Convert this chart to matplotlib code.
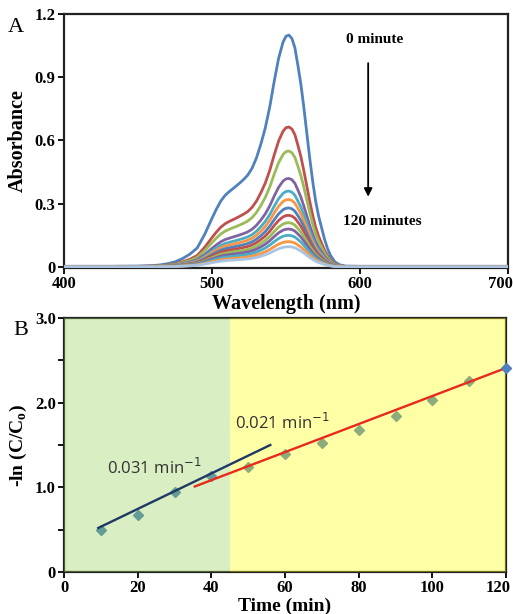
import numpy as np
import matplotlib
matplotlib.use("Agg")
import matplotlib.pyplot as plt
from matplotlib.ticker import FixedLocator
from matplotlib.transforms import ScaledTranslation

# ---- panel A: absorbance spectra, 0 to 120 minutes ----
wavelength = [400, 430, 450, 460, 465, 470, 475, 480, 485, 490, 495, 500, 503, 506,
              509, 512, 515, 518, 521, 524, 527, 530, 533, 536, 539, 542, 545, 548,
              550, 552, 554, 556, 558, 560, 562, 564, 566, 568, 570, 572, 574, 576,
              578, 580, 583, 586, 590, 600, 650, 700]
# shape of the 0 minute spectrum, normalised to its peak
band_shape = [0.003, 0.003, 0.004, 0.006, 0.009, 0.014, 0.022, 0.036, 0.055, 0.082,
              0.14, 0.21, 0.25, 0.285, 0.31, 0.327, 0.342, 0.358, 0.375, 0.395, 0.425,
              0.47, 0.53, 0.60, 0.69, 0.80, 0.90, 0.97, 0.995, 1.0, 0.985, 0.945, 0.87,
              0.79, 0.69, 0.58, 0.47, 0.37, 0.285, 0.22, 0.17, 0.12, 0.08, 0.05, 0.022,
              0.01, 0.004, 0.003, 0.003, 0.003]
peak_abs = [1.10, 0.664, 0.55, 0.42, 0.36, 0.32, 0.28, 0.245, 0.21, 0.18, 0.15, 0.12, 0.096]
spec_colors = ['#4F81BD', '#C0504D', '#9BBB59', '#8064A2', '#4BACC6', '#F79646',
               '#4F81BD', '#C0504D', '#9BBB59', '#8064A2', '#4BACC6', '#F79646', '#A9C4E2']

# ---- panel B: kinetics ----
time_min = [10, 20, 30, 40, 50, 60, 70, 80, 90, 100, 110, 120]
neg_ln = [0.50, 0.67, 0.95, 1.13, 1.24, 1.39, 1.52, 1.68, 1.84, 2.03, 2.25, 2.41]
fit1_x = [9.3, 56]
fit1_y = [0.52, 1.50]
fit2_x = [35.5, 120]
fit2_y = [1.01, 2.41]

serif = 'Liberation Serif'
plt.rcParams['font.family'] = serif

fig = plt.figure(figsize=(5.13, 6.14), dpi=100)
axA = fig.add_axes([0.1248, 0.5635, 0.8655, 0.4137])
axB = fig.add_axes([0.1248, 0.0684, 0.8616, 0.4137])

wl = np.array(wavelength)
shape = np.array(band_shape)
for pk, col in zip(peak_abs, spec_colors):
    axA.plot(wl, shape * pk, color=col, lw=2.0, solid_joinstyle='round',
             solid_capstyle='round', zorder=3)

axA.set_xlim(400, 700)
axA.set_ylim(-0.005, 1.2)
axA.set_xticks([400, 500, 600, 700])
axA.set_yticks([0, 0.3, 0.6, 0.9, 1.2])
axA.set_yticklabels(['0', '0.3', '0.6', '0.9', '1.2'])
axA.set_xlabel('Wavelength (nm)', fontsize=14.5, fontweight='bold', labelpad=1)
axA.set_ylabel('Absorbance', fontsize=14.5, fontweight='bold', labelpad=5)
axA.text(610, 1.08, '0 minute', fontsize=11, fontweight='bold', ha='center', va='center')
axA.text(615, 0.217, '120 minutes', fontsize=11, fontweight='bold', ha='center', va='center')
axA.annotate('', xy=(605.5, 0.32), xytext=(605.5, 0.98),
             arrowprops=dict(arrowstyle='-|>', color='black', lw=1.3, mutation_scale=12))
fig.text(0.016, 0.948, 'A', fontsize=16, family=serif)

# background regions are translucent overlays on top of the markers
axB.plot(time_min[:-1], neg_ln[:-1], 'D', color='#4F81BD', ms=5.5, zorder=2)
axB.plot(time_min[-1:], neg_ln[-1:], 'D', color='#4F81BD', ms=5.5, zorder=6, clip_on=False)
axB.axvspan(0, 45, color='#92D050', alpha=0.35, lw=0, zorder=3)
axB.axvspan(45, 120, color='#FFFF00', alpha=0.35, lw=0, zorder=3)
axB.plot(fit1_x, fit1_y, color='#1F3864', lw=1.7, zorder=4)
axB.plot(fit2_x, fit2_y, color='#E8291C', lw=1.7, zorder=4)
axB.text(11.7, 1.23, '0.031 min$^{-1}$', fontsize=12, family='Open Sans',
         color='#333333', zorder=5, va='center')
axB.text(46.5, 1.76, '0.021 min$^{-1}$', fontsize=12, family='Open Sans',
         color='#333333', zorder=5, va='center')
axB.set_xlim(0, 120)
axB.set_ylim(0, 3)
axB.set_xticks([0, 20, 40, 60, 80, 100, 120])
axB.yaxis.set_major_locator(FixedLocator([0, 0.5, 1, 1.5, 2, 2.5, 3]))
axB.set_yticklabels(['0', '', '1.0', '', '2.0', '', '3.0'])
axB.set_xlabel('Time (min)', fontsize=14, fontweight='bold', labelpad=1)
axB.set_ylabel('-ln (C/C$_\\mathregular{o}$)', fontsize=14, fontweight='bold', labelpad=4)
fig.text(0.027, 0.4544, 'B', fontsize=16, family=serif)

for ax in (axA, axB):
    for sp in ax.spines.values():
        sp.set_linewidth(1.6)
        sp.set_color('#222222')
    ax.tick_params(direction='out', length=4, width=1.3, labelsize=12, pad=2)
    for lab in ax.get_xticklabels() + ax.get_yticklabels():
        lab.set_fontweight('bold')

# last x tick labels sit just inside the right edge
shift = ScaledTranslation(-8 / 100, 0, fig.dpi_scale_trans)
for ax in (axA, axB):
    last = ax.get_xticklabels()[-1]
    last.set_transform(last.get_transform() + shift)

fig.savefig('out.png', dpi=100)
